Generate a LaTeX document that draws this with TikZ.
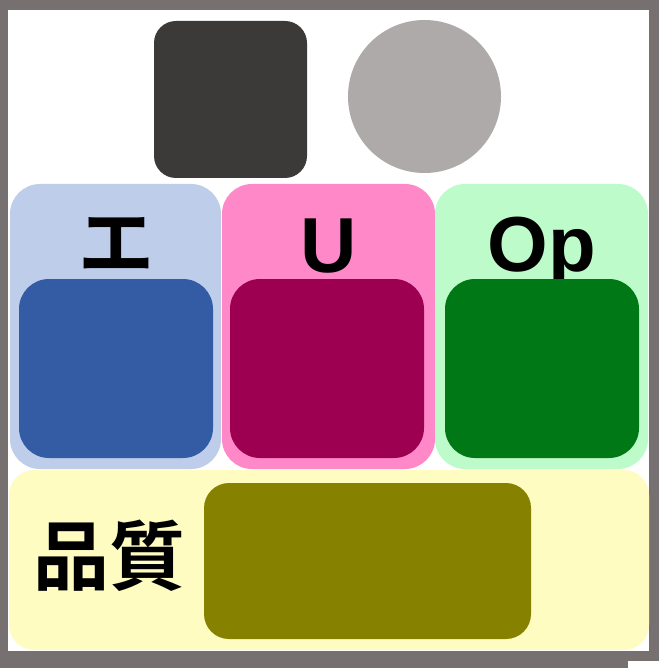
\documentclass[tikz,border=0pt]{standalone}
\usepackage{fontspec}
\newfontfamily\latinbold{Liberation Sans}
\newfontfamily\cjk{Noto Sans CJK JP}[BoldFont={Noto Sans CJK JP Bold}]
\definecolor{frame}{HTML}{767170}
\definecolor{darkbox}{HTML}{3B3A38}
\definecolor{greydisc}{HTML}{AEAAA9}
\definecolor{paleblue}{HTML}{BDCDEA}
\definecolor{deepblue}{HTML}{335CA5}
\definecolor{palepink}{HTML}{FF88C8}
\definecolor{deeppink}{HTML}{9D0051}
\definecolor{palegreen}{HTML}{BDFCCA}
\definecolor{deepgreen}{HTML}{007815}
\definecolor{paleyellow}{HTML}{FFFCC2}
\definecolor{olive}{HTML}{868200}
\tikzset{
  panel/.style={rounded corners=30pt},
  tag/.style={inner sep=0pt, anchor=base, font=\fontsize{78}{78}\selectfont\latinbold\bfseries},
  cjktag/.style={inner sep=0pt, font=\fontsize{76}{76}\selectfont\cjk\bfseries}
}
\begin{document}
\begin{tikzpicture}[x=1pt,y=-1pt]
  \useasboundingbox (0,0) rectangle (659,668);
  % frame
  \fill[frame] (0,0) rectangle (659,668);
  \fill[white] (8,10) rectangle (649,651);
  \fill[white] (628,661) rectangle (659,668);
  % top shapes
  \fill[darkbox,rounded corners=22pt] (154,21) rectangle (307,178);
  \fill[greydisc] (424.5,96.5) circle[radius=76.5];
  % three columns
  \fill[paleblue,panel] (10,184) rectangle (221,469);
  \fill[palepink,panel] (222,184) rectangle (435,469);
  \fill[palegreen,panel] (435,184) rectangle (648,469);
  \node[cjktag] (e) at (116,244) {エ};
  \node[tag] (u) at (329,272) {U};
  \node[tag] (op) at (542,271) {Op};
  \fill[deepblue,panel] (19,279) rectangle (213,458);
  \fill[deeppink,panel] (230,279) rectangle (424,458);
  \fill[deepgreen,panel] (445,279) rectangle (639,458);
  % bottom band
  \fill[paleyellow,rounded corners=25pt] (9,470) rectangle (649,650);
  \fill[olive,rounded corners=25pt] (204,483) rectangle (531,639);
  \node[cjktag] (quality) at (109,556) {品質};
\end{tikzpicture}
\end{document}
